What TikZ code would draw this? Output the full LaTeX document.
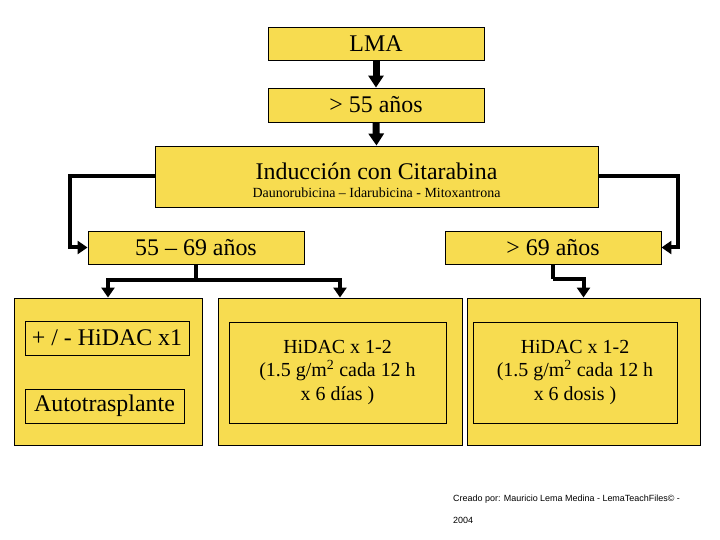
\documentclass[tikz,border=0pt]{standalone}
\usepackage{fontspec}
\setmainfont{Liberation Serif}
\newfontfamily\creditfont{Liberation Sans}
\usepackage{xcolor}
\usepackage{tikz}
\usetikzlibrary{arrows.meta,positioning,calc}
\definecolor{amarillo}{RGB}{247,220,80}
\tikzset{
  box/.style={draw=black, line width=0.9bp, fill=amarillo, inner sep=0pt, text centered, font=\fontsize{24}{26}\selectfont},
  ybox/.style={box, minimum width=216bp, minimum height=33bp},
  cajon/.style={draw=black, line width=0.9bp, fill=amarillo, minimum height=147bp},
  inbox/.style={box, align=center},
  hidac/.style={inbox, font=\fontsize{20}{24}\selectfont, minimum height=101bp},
  flecha/.style={line width=4bp, -{Triangle[length=10bp,width=13bp]}},
  gflecha/.style={line width=7bp, -{Triangle[length=12bp,width=15bp]}},
  linea/.style={line width=4bp}
}
\begin{document}
\begin{tikzpicture}[x=1bp,y=-1bp]
  \useasboundingbox[fill=white] (0,0) rectangle (720,540);
  % upper chain
  \node[ybox] (lma) at (376,43.5) {LMA};
  \node[ybox, minimum height=34bp] (mayor55) at (376,105) {> 55 años};
  \node[box, align=center, minimum width=443bp, minimum height=61bp] (induccion) at (376.5,176.5)
    {\rule{0pt}{25bp}Inducción con Citarabina\\[-8bp]\fontsize{14}{18}\selectfont Daunorubicina – Idarubicina - Mitoxantrona};
  \draw[gflecha] (lma.south) -- (mayor55.north);
  \draw[gflecha] (mayor55.south) -- (induccion.north);
  % age groups
  \node[ybox] (edad1) at (196,247.5) {55 – 69 años};
  \node[ybox] (edad2) at (553,247.5) {> 69 años};
  \draw[flecha] (induccion.west) -- ++(-85,0) |- (edad1.west);
  \draw[flecha] (induccion.east) -- ++(80,0) |- (edad2.east);
  % treatments
  \node[cajon, minimum width=188bp] (izq) at (108,371.5) {};
  \node[cajon, minimum width=244bp] (centro) at (340,371.5) {};
  \node[cajon, minimum width=233bp] (der) at (583.5,371.5) {};
  \node[inbox, minimum width=164bp, minimum height=34bp] (hidac1) at (107,338) {+ / - HiDAC x1};
  \node[inbox, minimum width=159bp, minimum height=34bp] (auto) at (104.5,406) {Autotrasplante};
  \node[hidac, minimum width=217bp] (hidacA) at (337.5,372.5)
    {HiDAC x 1-2\\(1.5 g/m\textsuperscript{2} cada 12 h\\x 6 días )};
  \node[hidac, minimum width=204bp] (hidacB) at (575,372.5)
    {HiDAC x 1-2\\(1.5 g/m\textsuperscript{2} cada 12 h\\x 6 dosis )};
  \draw[linea] (edad1.south) -- ++(0,16) coordinate (rama);
  \draw[flecha] (rama) -| (izq.north);
  \draw[flecha] (rama) -| (centro.north);
  \draw[linea] (edad2.south) -- ++(0,15) coordinate (rama2);
  \draw[flecha] (rama2) -| (der.north);
  % credits
  \node[anchor=base west, inner sep=0pt, font=\creditfont\fontsize{9}{11}\selectfont] (credito) at (453,501)
    {Creado por: Mauricio Lema Medina - LemaTeachFiles© -};
  \node[anchor=base west, inner sep=0pt, font=\creditfont\fontsize{9}{11}\selectfont] (anio) at (453,523) {2004};
\end{tikzpicture}
\end{document}
